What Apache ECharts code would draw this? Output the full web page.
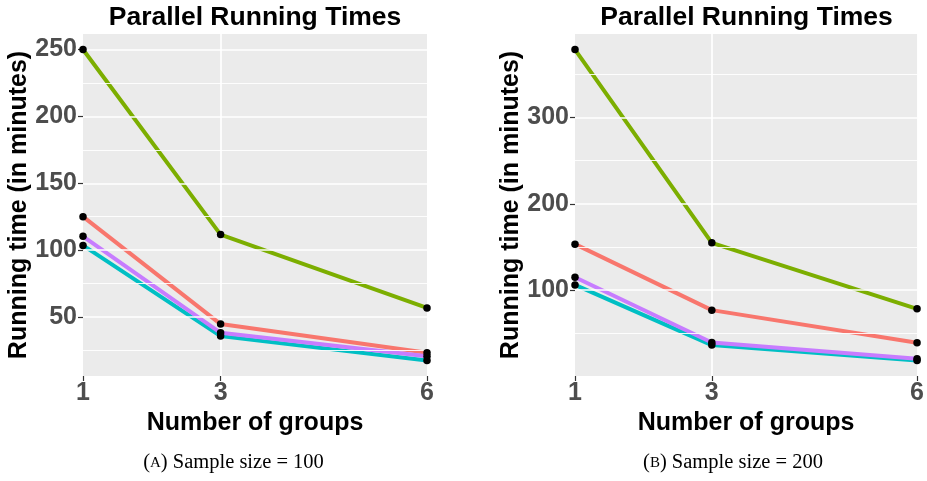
<!DOCTYPE html>
<html>
<head>
<meta charset="utf-8">
<script src="https://cdn.jsdelivr.net/npm/echarts@6/dist/echarts.min.js"></script>
<style>
  html, body { margin: 0; background: #fff; }
  #main { width: 927px; height: 481px; }
</style>
</head>
<body>
<div id="main"></div>
<script>
// number of groups (x axis)
const groups = [1, 3, 6];

// (A) sample size = 100
const a_red = [125, 44.7, 23.2];
const a_green = [250, 111.6, 56.8];
const a_cyan = [103.5, 35.7, 17.5];
const a_purple = [110.3, 38.2, 20.7];

// (B) sample size = 200
const b_red = [153.3, 76.8, 39];
const b_green = [378.8, 154.8, 78.3];
const b_cyan = [106, 36.3, 18.5];
const b_purple = [115, 39.3, 20.4];

// y ticks
const a_major = [50, 100, 150, 200, 250];
const a_minor = [25, 75, 125, 175, 225];
const b_major = [100, 200, 300];
const b_minor = [50, 150, 250, 350];
const xGridLines = [3];

const colors = { red: "#F8766D", green: "#7CAE00", cyan: "#00BFC4", purple: "#C77CFF" };
const FONT = "Liberation Sans, Arial, sans-serif";

const panels = [
  { lines: { red: a_red, green: a_green, cyan: a_cyan, purple: a_purple }, major: a_major, minor: a_minor },
  { lines: { red: b_red, green: b_green, cyan: b_cyan, purple: b_purple }, major: b_major, minor: b_minor },
];

// ggplot style 5% expansion on the y range
function yRange(lines) {
  let all = [];
  Object.values(lines).forEach((l) => (all = all.concat(l)));
  const lo = Math.min(...all), hi = Math.max(...all);
  const pad = (hi - lo) * 0.05;
  return [lo - pad, hi + pad];
}

const xAxis = [], yAxis = [], series = [];

panels.forEach((p, i) => {
  const r = yRange(p.lines);
  xAxis.push({
    type: "value",
    gridIndex: i,
    min: 1,
    max: 6,
    axisLine: { show: false },
    splitLine: { show: false },
    axisTick: { show: true, length: 5, customValues: groups, lineStyle: { color: "#333333", width: 1.2 } },
    axisLabel: { customValues: groups, color: "#4D4D4D", fontWeight: "bold", fontSize: 25, fontFamily: FONT, margin: 5 },
    name: "Number of groups",
    nameLocation: "middle",
    nameGap: 27,
    nameTextStyle: { color: "#000", fontWeight: "bold", fontSize: 25, fontFamily: FONT },
  });
  yAxis.push({
    type: "value",
    gridIndex: i,
    min: r[0],
    max: r[1],
    axisLine: { show: false },
    splitLine: { show: false },
    axisTick: { show: true, length: 5, customValues: p.major, lineStyle: { color: "#333333", width: 1.2 } },
    axisLabel: { customValues: p.major, color: "#4D4D4D", fontWeight: "bold", fontSize: 25, fontFamily: FONT, margin: 6 },
    name: "Running time (in minutes)",
    nameLocation: "middle",
    nameGap: 50,
    nameTextStyle: { color: "#000", fontWeight: "bold", fontSize: 25, fontFamily: FONT },
  });

  // white grid lines
  series.push({
    type: "line",
    xAxisIndex: i,
    yAxisIndex: i,
    data: [],
    z: 1,
    silent: true,
    markLine: {
      silent: true,
      symbol: "none",
      animation: false,
      label: { show: false },
      data: p.major
        .map((v) => ({ yAxis: v, lineStyle: { color: "#fff", width: 1.7, type: "solid" } }))
        .concat(p.minor.map((v) => ({ yAxis: v, lineStyle: { color: "#fff", width: 0.9, type: "solid" } })))
        .concat(xGridLines.map((v) => ({ xAxis: v, lineStyle: { color: "#fff", width: 1.7, type: "solid" } }))),
    },
  });

  ["red", "green", "cyan", "purple"].forEach((k) => {
    series.push({
      name: k,
      type: "line",
      xAxisIndex: i,
      yAxisIndex: i,
      data: groups.map((g, j) => [g, p.lines[k][j]]),
      symbol: "none",
      lineStyle: { color: colors[k], width: 4 },
      z: 3,
      animation: false,
    });
  });
  ["red", "green", "cyan", "purple"].forEach((k) => {
    series.push({
      type: "scatter",
      xAxisIndex: i,
      yAxisIndex: i,
      data: groups.map((g, j) => [g, p.lines[k][j]]),
      symbolSize: 7.5,
      itemStyle: { color: "#000", opacity: 1 },
      z: 5,
      animation: false,
    });
  });
});

const chart = echarts.init(document.getElementById("main"));
chart.setOption({
  animation: false,
  grid: [
    { left: 83, right: 500, top: 34, bottom: 105, show: true, backgroundColor: "#EBEBEB", borderWidth: 0 },
    { left: 575, right: 9, top: 34, bottom: 105, show: true, backgroundColor: "#EBEBEB", borderWidth: 0 },
  ],
  xAxis: xAxis,
  yAxis: yAxis,
  series: series,
  graphic: [
    { type: "text", x: 255, y: 17.5, style: { text: "Parallel Running Times", align: "center", verticalAlign: "middle", font: "bold 26.5px " + FONT, fill: "#000" } },
    { type: "text", x: 746.5, y: 17.5, style: { text: "Parallel Running Times", align: "center", verticalAlign: "middle", font: "bold 26.5px " + FONT, fill: "#000" } },
    {
      type: "text", x: 233.5, y: 463,
      style: { text: "({sc|A}) Sample size = 100", align: "center", verticalAlign: "middle", font: "20.5px Liberation Serif, Times New Roman, serif", fill: "#000",
        rich: { sc: { fontSize: 15, fontFamily: "Liberation Serif, serif" } } },
    },
    {
      type: "text", x: 733, y: 463,
      style: { text: "({sc|B}) Sample size = 200", align: "center", verticalAlign: "middle", font: "20.5px Liberation Serif, Times New Roman, serif", fill: "#000",
        rich: { sc: { fontSize: 15, fontFamily: "Liberation Serif, serif" } } },
    },
  ],
});
</script>
</body>
</html>
